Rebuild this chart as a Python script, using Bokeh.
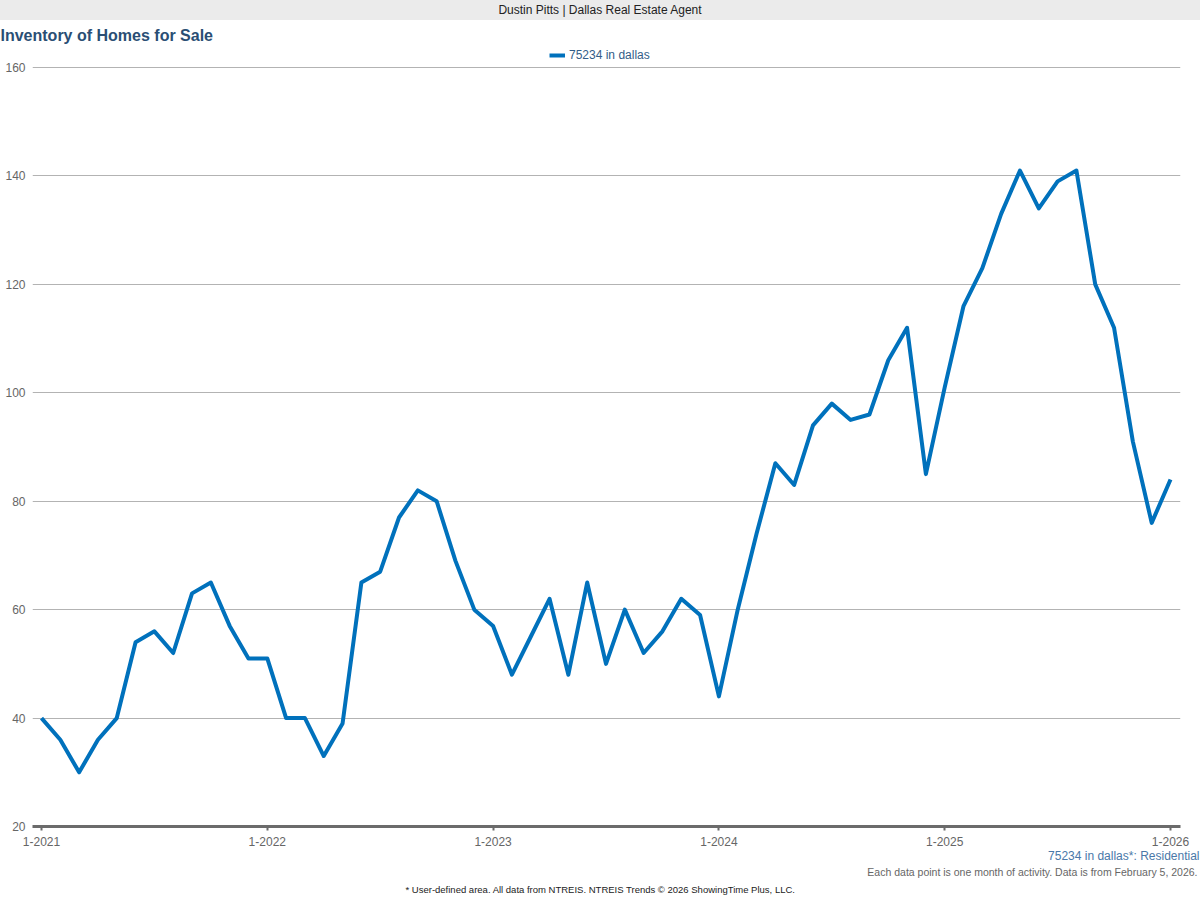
import pandas as pd
from bokeh.plotting import figure
from bokeh.models import (Range1d, FixedTicker, Legend, LegendItem, Div, Title,
                          ColumnDataSource)
from bokeh.layouts import column
from bokeh.embed import file_html
from bokeh.resources import INLINE

# ---------------- data ----------------
header_text = "Dustin Pitts | Dallas Real Estate Agent"
chart_title = "Inventory of Homes for Sale"
series_name = "75234 in dallas"
months = [d.strftime("%Y-%m") for d in pd.date_range("2021-01-01", periods=61, freq="MS")]
inventory = [40, 36, 30, 36, 40, 54, 56, 52, 63, 65, 57, 51,
             51, 40, 40, 33, 39, 65, 67, 77, 82, 80, 69, 60,
             57, 48, 55, 62, 48, 65, 50, 60, 52, 56, 62, 59,
             44, 60, 74, 87, 83, 94, 98, 95, 96, 106, 112, 85,
             101, 116, 123, 133, 141, 134, 139, 141, 120, 112, 91, 76,
             84]
y_ticks = [20, 40, 60, 80, 100, 120, 140, 160]
x_tick_labels = ["1-2021", "1-2022", "1-2023", "1-2024", "1-2025", "1-2026"]
note_area = "75234 in dallas*: Residential"
note_data = "Each data point is one month of activity. Data is from February 5, 2026."
footer_text = "* User-defined area. All data from NTREIS. NTREIS Trends \u00a9 2026 ShowingTime Plus, LLC."

FONT = "Liberation Sans"
LINE_COLOR = "#0071BC"

x_idx = list(range(len(months)))
x_tick_pos = [i for i, m in enumerate(months) if m.endswith("-01")]
src = ColumnDataSource(dict(x=x_idx, y=inventory, month=months))

# ---------------- header ----------------
header = Div(text=header_text, width=1200, height=20,
             styles={"background-color": "#ebebeb", "text-align": "center",
                     "font-family": "'Liberation Sans', Arial, sans-serif",
                     "font-size": "12px", "line-height": "20px", "color": "#222222",
                     "width": "1200px", "height": "20px", "margin": "0", "padding": "0"})

# ---------------- figure ----------------
# the frame also holds the legend strip above the 160 grid line
p = figure(width=1200, height=880, output_backend="svg", toolbar_location=None,
           x_range=Range1d(-0.478, 60.531), y_range=Range1d(20, 164.43),
           min_border_left=32, min_border_right=20, min_border_top=23, min_border_bottom=74,
           title=chart_title, title_location="above")
p.outline_line_color = None
p.background_fill_color = "white"
p.border_fill_color = "white"

p.title.align = "left"
p.title.offset = -32
p.title.standoff = 0
p.title.vertical_align = "bottom"
p.title.text_font = FONT
p.title.text_font_size = "16px"
p.title.text_font_style = "bold"
p.title.text_color = "#2a4e74"

r = p.line("x", "y", source=src, line_color=LINE_COLOR, line_width=4, line_join="round")

# grid
p.xgrid.grid_line_color = None
p.ygrid.grid_line_color = "#b3b3b3"
p.ygrid.grid_line_width = 1

# y axis
p.yaxis.ticker = FixedTicker(ticks=y_ticks)
p.yaxis.axis_line_color = None
p.yaxis.major_tick_line_color = None
p.yaxis.minor_tick_line_color = None
p.yaxis.major_tick_out = 0
p.yaxis.major_tick_in = 0
p.yaxis.major_label_standoff = 7
p.yaxis.major_label_text_font = FONT
p.yaxis.major_label_text_font_size = "12px"
p.yaxis.major_label_text_color = "#666666"

# x axis
p.xaxis.ticker = FixedTicker(ticks=x_tick_pos)
p.xaxis.major_label_overrides = {pos: lab for pos, lab in zip(x_tick_pos, x_tick_labels)}
p.xaxis.axis_line_color = "#6b6b6b"
p.xaxis.axis_line_width = 3
p.xaxis.major_tick_line_color = "#6b6b6b"
p.xaxis.major_tick_line_width = 2
p.xaxis.major_tick_out = 4
p.xaxis.major_tick_in = 0
p.xaxis.minor_tick_line_color = None
p.xaxis.major_label_standoff = 6
p.xaxis.major_label_text_font = FONT
p.xaxis.major_label_text_font_size = "12px"
p.xaxis.major_label_text_color = "#666666"

# legend (top strip of the frame)
legend = Legend(items=[LegendItem(label=series_name, renderers=[r])],
                location=(517, 763), orientation="horizontal",
                border_line_color=None, background_fill_alpha=0,
                padding=3, margin=0, spacing=0,
                glyph_width=16, glyph_height=16, label_height=16, label_standoff=4,
                label_text_font=FONT, label_text_font_size="12px",
                label_text_color="#335d88")
p.add_layout(legend)

# notes below the axis
p.add_layout(Title(text=note_area, align="right", offset=-19, standoff=0,
                   vertical_align="top", text_font=FONT, text_font_size="12px",
                   text_font_style="normal", text_color="#4a78a8"), "below")
p.add_layout(Title(text=note_data, align="right", offset=-17, standoff=0,
                   vertical_align="middle", text_font=FONT, text_font_size="10.5px",
                   text_font_style="normal", text_color="#666666"), "below")
p.add_layout(Title(text=footer_text, align="left", offset=373, standoff=9,
                   vertical_align="middle", text_font=FONT, text_font_size="9.5px",
                   text_font_style="normal", text_color="#222222"), "below")

layout = column(header, p, spacing=0)
open("out.html", "w").write(file_html(layout, INLINE))
